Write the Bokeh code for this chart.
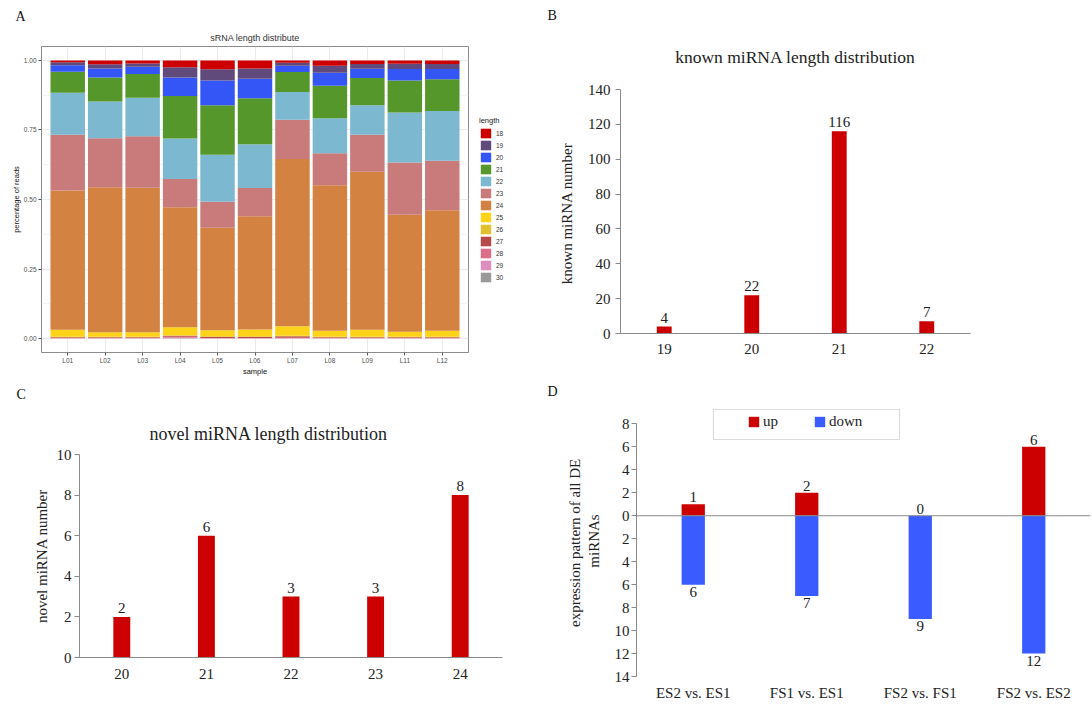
from bokeh.plotting import figure
from bokeh.models import (FactorRange, Range1d, FixedTicker, Legend, LegendItem, Span, Title,
                          BoxAnnotation, ColumnDataSource, CustomJSTickFormatter, LinearAxis)
from bokeh.layouts import column, row
from bokeh.core.properties import value
from bokeh.embed import file_html
from bokeh.resources import INLINE

# ---------------- Panel A data ----------------
samples = ["L01", "L02", "L03", "L04", "L05", "L06", "L07", "L08", "L09", "L11", "L12"]
lengths = ["18", "19", "20", "21", "22", "23", "24", "25", "26", "27", "28", "29", "30"]
len18 = [0.007, 0.014, 0.011, 0.025, 0.032, 0.029, 0.008, 0.019, 0.013, 0.012, 0.013]
len19 = [0.010, 0.015, 0.012, 0.036, 0.040, 0.037, 0.011, 0.025, 0.017, 0.019, 0.018]
len20 = [0.024, 0.032, 0.026, 0.067, 0.089, 0.070, 0.023, 0.047, 0.033, 0.041, 0.037]
len21 = [0.075, 0.087, 0.085, 0.153, 0.178, 0.165, 0.072, 0.117, 0.098, 0.115, 0.114]
len22 = [0.151, 0.132, 0.139, 0.145, 0.169, 0.158, 0.099, 0.126, 0.106, 0.180, 0.179]
len23 = [0.201, 0.176, 0.185, 0.102, 0.094, 0.101, 0.141, 0.115, 0.133, 0.188, 0.178]
len24 = [0.500, 0.521, 0.519, 0.431, 0.368, 0.407, 0.602, 0.523, 0.568, 0.420, 0.433]
len25 = [0.025, 0.016, 0.016, 0.029, 0.022, 0.025, 0.034, 0.021, 0.025, 0.018, 0.021]
len26 = [0.002, 0.002, 0.002, 0.002, 0.002, 0.002, 0.002, 0.002, 0.002, 0.002, 0.002]
len27 = [0.003, 0.003, 0.003, 0.003, 0.004, 0.004, 0.005, 0.003, 0.003, 0.003, 0.003]
len28 = [0.001, 0.001, 0.001, 0.004, 0.001, 0.001, 0.002, 0.001, 0.001, 0.001, 0.001]
len29 = [0.0005, 0.0005, 0.0005, 0.002, 0.0005, 0.0005, 0.0005, 0.0005, 0.0005, 0.0005, 0.0005]
len30 = [0.0005, 0.0005, 0.0005, 0.001, 0.0005, 0.0005, 0.0005, 0.0005, 0.0005, 0.0005, 0.0005]
a_yticks = [0, 0.25, 0.5, 0.75, 1.0]
a_yminor = [0.125, 0.375, 0.625, 0.875]
length_colors = ["#CC0000", "#604A7B", "#3456F7", "#56972B", "#7CB8CF", "#C97A7A", "#D38241",
                 "#FDD319", "#E2C12E", "#B84A4A", "#DC6E8C", "#DD8DBE", "#9A9A9A"]

# ---------------- Panel B data ----------------
known_lengths = ["19", "20", "21", "22"]
known_counts = [4, 22, 116, 7]
b_yticks = [0, 20, 40, 60, 80, 100, 120, 140]

# ---------------- Panel C data ----------------
novel_lengths = ["20", "21", "22", "23", "24"]
novel_counts = [2, 6, 3, 3, 8]
c_yticks = [0, 2, 4, 6, 8, 10]

# ---------------- Panel D data ----------------
comparisons = ["ES2 vs. ES1", "FS1 vs. ES1", "FS2 vs. FS1", "FS2 vs. ES2"]
up_counts = [1, 2, 0, 6]
down_counts = [6, 7, 9, 12]
d_yticks = [-14, -12, -10, -8, -6, -4, -2, 0, 2, 4, 6, 8]

RED = "#CC0000"
BLUE = "#3A5BFF"
AXIS_GREY = "#8a8a8a"
SERIF = "Liberation Serif"
SANS = "Liberation Sans"


def add_title(p, text, size, font, standoff, align="center", offset=0, color="#222222",
              valign="bottom"):
    p.add_layout(Title(text=text, text_font=font, text_font_size=size, text_font_style="normal",
                       text_color=color, align=align, offset=offset, standoff=standoff,
                       vertical_align=valign), "above")


def serif_axes(p, ytick_list):
    for ax in (p.xaxis[0], p.yaxis[0]):
        ax.axis_line_color = AXIS_GREY
        ax.axis_line_width = 1
        ax.major_label_text_font = SERIF
        ax.major_label_text_font_size = "15px"
        ax.major_label_text_color = "#222222"
        ax.axis_label_text_font = SERIF
        ax.axis_label_text_font_size = "15px"
        ax.axis_label_text_font_style = "normal"
        ax.axis_label_text_color = "#222222"
        ax.minor_tick_line_color = None
    p.xaxis.major_tick_line_color = None
    p.xaxis.major_tick_out = 0
    p.xaxis.major_tick_in = 0
    p.yaxis.major_tick_line_color = AXIS_GREY
    p.yaxis.major_tick_out = 5
    p.yaxis.major_tick_in = 0
    p.yaxis.ticker = FixedTicker(ticks=ytick_list)
    p.xgrid.grid_line_color = None
    p.ygrid.grid_line_color = None
    p.outline_line_color = None


# ================= Panel A =================
pA = figure(width=470, height=378, title=None,
            x_range=FactorRange(factors=samples, range_padding=0.2, range_padding_units="absolute"),
            y_range=Range1d(-0.05, 1.05),
            output_backend="svg", toolbar_location=None, frame_align=False,
            min_border_left=41, min_border_right=2, min_border_top=46, min_border_bottom=25)
srcA = ColumnDataSource(dict(sample=samples, len18=len18, len19=len19, len20=len20, len21=len21,
                             len22=len22, len23=len23, len24=len24, len25=len25, len26=len26,
                             len27=len27, len28=len28, len29=len29, len30=len30))
stack_keys = ["len" + l for l in lengths][::-1]
stack_colors = length_colors[::-1]
pA.vbar_stack(stack_keys, x="sample", width=0.92, color=stack_colors, line_color=None,
              source=srcA)

pA.outline_line_color = "#8c8c8c"
pA.outline_line_width = 1
pA.xgrid.grid_line_color = "#EBEBEB"
pA.ygrid.grid_line_color = "#EBEBEB"
pA.ygrid.minor_grid_line_color = "#F4F4F4"
pA.yaxis.ticker = FixedTicker(ticks=a_yticks, minor_ticks=a_yminor)
pA.yaxis.formatter = CustomJSTickFormatter(code="return tick.toFixed(2)")
for ax in (pA.xaxis[0], pA.yaxis[0]):
    ax.axis_line_color = None
    ax.major_tick_line_color = "#555555"
    ax.major_tick_out = 3
    ax.major_tick_in = 0
    ax.minor_tick_line_color = None
    ax.major_label_text_font = SANS
    ax.major_label_text_font_size = "6.5px"
    ax.major_label_text_color = "#4D4D4D"
    ax.major_label_standoff = 1
    ax.axis_label_text_font = SANS
    ax.axis_label_text_font_size = "7.5px"
    ax.axis_label_text_font_style = "normal"
    ax.axis_label_text_color = "#111111"
    ax.axis_label_standoff = 0
pA.xaxis.axis_label = "sample"
pA.yaxis.axis_label = "percentage of reads"
add_title(pA, "sRNA length distribute", "9px", SANS, 8, color="#333333")
add_title(pA, "A", "14px", SERIF, 5, align="left", offset=-26, color="#111111")

# legend of panel A, drawn in a narrow strip to the right of the panel;
# the strip re-uses panel A's data source, with its bars kept out of view
pLeg = figure(width=70, height=378, x_range=FactorRange(factors=samples), y_range=Range1d(2, 3),
              x_axis_location=None, y_axis_location=None, output_backend="svg",
              toolbar_location=None, frame_align=False, min_border=0, outline_line_color=None)
pLeg.grid.visible = False
proxies = pLeg.vbar_stack(stack_keys, x="sample", width=0.92, color=stack_colors,
                          line_color=None, source=srcA)
proxy_by_len = dict(zip(lengths[::-1], proxies))
legA = Legend(items=[LegendItem(label=l, renderers=[proxy_by_len[l]]) for l in lengths],
              location=(9, 95), title="length", title_text_font=SANS,
              title_text_font_size="7.5px", title_text_font_style="normal", title_standoff=2,
              title_text_color="#222222",
              border_line_color=None, background_fill_alpha=0, padding=0, margin=0,
              spacing=0, glyph_width=13, glyph_height=12, label_height=12, label_standoff=4,
              label_width=10,
              label_text_font=SANS, label_text_font_size="6.5px", label_text_color="#333333")
pLeg.add_layout(legA)

# ================= Panel B =================
pB = figure(width=552, height=378, title=None, x_range=FactorRange(factors=known_lengths),
            y_range=Range1d(0, 140), output_backend="svg", toolbar_location=None,
            frame_align=False,
            min_border_left=80, min_border_right=122, min_border_top=89, min_border_bottom=45)
pB.vbar(x=known_lengths, top=known_counts, width=0.17, color=RED, line_color=None)
pB.text(x=known_lengths, y=known_counts, text=[str(v) for v in known_counts],
        text_align="center", text_baseline="bottom", y_offset=-4,
        text_font=value(SERIF), text_font_size="15px", text_color="#222222")
serif_axes(pB, b_yticks)
pB.yaxis.axis_label = "known miRNA  number"
pB.yaxis.major_label_standoff = 5
pB.yaxis.axis_label_standoff = 10
pB.xaxis.major_label_standoff = 10
add_title(pB, "known miRNA length distribution", "17.5px", SERIF, 45)
add_title(pB, "B", "14px", SERIF, 0, align="left", offset=-73, color="#111111")

# ================= Panel C =================
pC = figure(width=540, height=326, title=None, x_range=FactorRange(factors=novel_lengths),
            y_range=Range1d(0, 10), output_backend="svg", toolbar_location=None,
            frame_align=False,
            min_border_left=79, min_border_right=38, min_border_top=76, min_border_bottom=47)
pC.vbar(x=novel_lengths, top=novel_counts, width=0.2, color=RED, line_color=None)
pC.text(x=novel_lengths, y=novel_counts, text=[str(v) for v in novel_counts],
        text_align="center", text_baseline="bottom", y_offset=-4,
        text_font=value(SERIF), text_font_size="15px", text_color="#222222")
serif_axes(pC, c_yticks)
pC.yaxis.axis_label = "novel miRNA number"
pC.yaxis.major_label_standoff = 3
pC.yaxis.axis_label_standoff = 4
pC.xaxis.major_label_standoff = 11
add_title(pC, "novel miRNA length distribution", "18px", SERIF, 22, align="left", offset=70)
add_title(pC, "C", "14px", SERIF, 14, align="left", offset=-63, color="#111111", valign="top")

# ================= Panel D =================
pD = figure(width=552, height=326, title=None, x_range=FactorRange(factors=comparisons),
            y_range=Range1d(-14, 9.6), output_backend="svg", toolbar_location=None,
            frame_align=False,
            min_border_left=96, min_border_right=2, min_border_top=27, min_border_bottom=28)
r_up = pD.vbar(x=comparisons, top=up_counts, bottom=0, width=0.205, color=RED, line_color=None)
r_dn = pD.vbar(x=comparisons, top=0, bottom=[-d for d in down_counts], width=0.205,
               color=BLUE, line_color=None)
pD.add_layout(Span(location=0, dimension="width", line_color=AXIS_GREY, line_width=1))
pD.text(x=comparisons, y=up_counts, text=[str(v) for v in up_counts],
        text_align="center", text_baseline="bottom", y_offset=-2,
        text_font=value(SERIF), text_font_size="15px", text_color="#222222")
pD.text(x=comparisons, y=[-d for d in down_counts], text=[str(v) for v in down_counts],
        text_align="center", text_baseline="top", y_offset=2,
        text_font=value(SERIF), text_font_size="15px", text_color="#222222")
serif_axes(pD, d_yticks)
pD.yaxis.bounds = (-14, 8)
pD.yaxis.formatter = CustomJSTickFormatter(code="return Math.abs(tick).toString()")
pD.xaxis.axis_line_color = None
pD.xaxis.major_label_standoff = 8
pD.yaxis.major_label_standoff = 2
pD.yaxis.axis_label = "miRNAs"
pD.yaxis.axis_label_standoff = 10
outer = LinearAxis(ticker=FixedTicker(ticks=[]), axis_label="expression pattern  of all DE",
                   axis_line_color=None, major_tick_line_color=None, minor_tick_line_color=None,
                   major_tick_out=0, major_tick_in=0, minor_tick_out=0, minor_tick_in=0,
                   axis_label_standoff=0, axis_label_text_font=SERIF,
                   axis_label_text_font_size="15px", axis_label_text_font_style="normal",
                   axis_label_text_color="#222222", bounds=(-14, 8))
pD.add_layout(outer, "left")
pD.add_layout(BoxAnnotation(left=0.678, right=2.317, bottom=6.64, top=9.25,
                            fill_color=None, line_color=AXIS_GREY, line_width=1.2))
legD = Legend(items=[LegendItem(label="up", renderers=[r_up]),
                     LegendItem(label="down", renderers=[r_dn])],
              location=(111, 246), orientation="horizontal",
              border_line_color=None, background_fill_alpha=0, padding=0, margin=0,
              spacing=35, label_standoff=3, glyph_width=13, glyph_height=13,
              label_height=13, label_width=10,
              label_text_font=SERIF, label_text_font_size="15px", label_text_color="#222222")
pD.add_layout(legD)
add_title(pD, "D", "14px", SERIF, 9, align="left", offset=-89, color="#111111", valign="top")

layout = column(row(pA, pLeg, pB), row(pC, pD))
open("out.html", "w").write(file_html(layout, INLINE, title="miRNA length distribution"))
